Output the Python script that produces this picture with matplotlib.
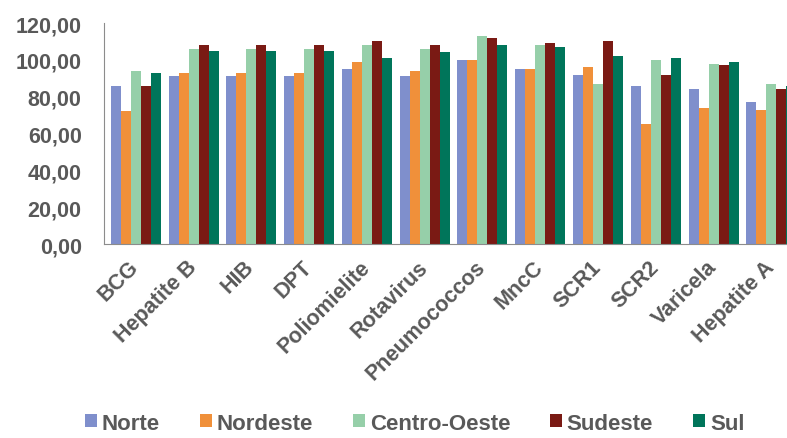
import numpy as np
import matplotlib
matplotlib.use("Agg")
import matplotlib.pyplot as plt

# Dados (cobertura vacinal por regiao)
vacinas = ["BCG", "Hepatite B", "HIB", "DPT", "Poliomielite", "Rotavirus",
           "Pneumococcos", "MncC", "SCR1", "SCR2", "Varicela", "Hepatite A"]
norte = [86, 91, 91, 91, 95, 91, 100, 95, 92, 86, 84, 77]
nordeste = [72, 93, 93, 93, 99, 94, 100, 95, 96, 65, 74, 73]
centro_oeste = [94, 106, 106, 106, 108, 106, 113, 108, 87, 100, 98, 87]
sudeste = [86, 108, 108, 108, 110, 108, 112, 109, 110, 92, 97, 84]
sul = [93, 105, 105, 105, 101, 104, 108, 107, 102, 101, 99, 86]

series = [("Norte", norte, "#7f8fcc"),
          ("Nordeste", nordeste, "#f0903a"),
          ("Centro-Oeste", centro_oeste, "#96cfa9"),
          ("Sudeste", sudeste, "#7a1a14"),
          ("Sul", sul, "#00755a")]

plt.rcParams["font.family"] = ["Liberation Sans", "DejaVu Sans"]
cinza = "#595959"

fig = plt.figure(figsize=(7.87, 4.39), dpi=100)
ax = fig.add_axes([0.1321, 0.4419, 0.881, 0.5034])

x = np.arange(len(vacinas))
largura = 0.173
for i, (nome, valores, cor) in enumerate(series):
    ax.bar(x + (i - 2) * largura, valores, largura, color=cor, label=nome)

ax.set_ylim(0, 120)
ax.set_xlim(-0.55, 11.45)
ax.set_yticks(range(0, 121, 20))
ax.set_yticklabels([f"{v},00" for v in range(0, 121, 20)])
ax.set_xticks(x)
ax.set_xticklabels(vacinas, rotation=45, ha="right", va="center", rotation_mode="anchor")
ax.tick_params(axis="both", length=0, labelsize=15.5, colors=cinza)
ax.tick_params(axis="y", pad=16)
ax.tick_params(axis="x", pad=14)
for lab in ax.get_xticklabels() + ax.get_yticklabels():
    lab.set_fontweight("bold")

for lado in ["top", "right"]:
    ax.spines[lado].set_visible(False)
ax.spines["left"].set_color("#8c8c8c")
ax.spines["bottom"].set_color("#8c8c8c")

fig.legend(loc="center", bbox_to_anchor=(0.527, 0.034), ncol=5, frameon=False,
           handlelength=0.55, handleheight=0.55, handletextpad=0.2, columnspacing=1.8,
           prop={"size": 16, "weight": "bold"}, labelcolor=cinza)

fig.savefig("out.png", dpi=100)
